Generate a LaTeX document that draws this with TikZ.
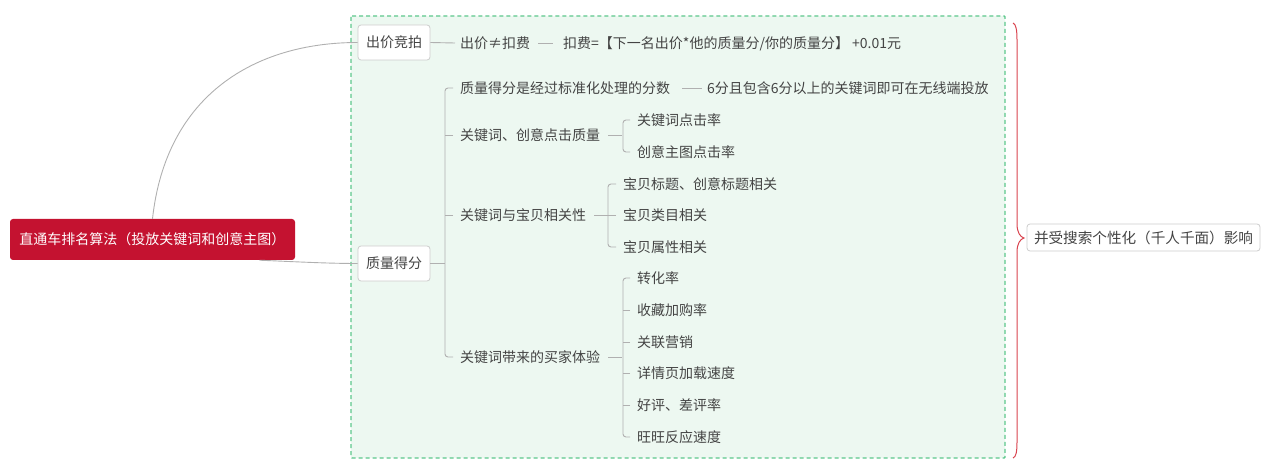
\documentclass[tikz,border=0pt]{standalone}
\usepackage{fontspec}
\setmainfont{Noto Sans CJK SC}
\definecolor{rootred}{HTML}{C41230}
\definecolor{textgray}{HTML}{444444}
\definecolor{linegray}{HTML}{B0B0B0}
\definecolor{boxgray}{HTML}{CDCDCD}
\definecolor{greenfill}{HTML}{EDF8F1}
\definecolor{greenline}{HTML}{5DC88C}
\definecolor{bracered}{HTML}{D9434E}
\begin{document}
\begin{tikzpicture}[x=1pt,y=-1pt,
  txt/.style={anchor=west, inner sep=0pt, text=textgray, font=\fontsize{14}{16}\selectfont, text height=10.9pt, text depth=0pt},
  topicbox/.style={draw=boxgray, fill=white, rounded corners=3pt, line width=0.8pt, text=textgray, font=\fontsize{14}{16}\selectfont, minimum width=72pt, minimum height=35pt, inner sep=0pt, text height=10.9pt, text depth=0pt},
  conn/.style={draw=linegray, line width=0.9pt},
  brk/.style={draw=linegray, line width=0.9pt, rounded corners=3pt}]
\useasboundingbox (0,0) rectangle (1280,473);
% green dashed container
\path[fill=greenfill, draw=greenline, line width=1.4pt, dash pattern=on 4pt off 3pt, rounded corners=1pt] (351,16) rectangle (1005,458);
% root
\node[fill=rootred, rounded corners=3pt, minimum width=285pt, minimum height=41pt, inner sep=0pt, text=white, font=\fontsize{14}{16}\selectfont, text height=10.9pt, text depth=0pt] (root) at (152.5,239.5) {直通车排名算法（投放关键词和创意主图）};
% main topics
\node[topicbox] (bid) at (394,42.5) {出价竞拍};
\node[topicbox] (qs) at (394,263.5) {质量得分};
% bid branch
\node[txt] (b1) at (460,43) {出价≠扣费};
\node[txt] (b2) at (563,43) {扣费=【下一名出价*他的质量分/你的质量分】 +0.01元};
% quality branch
\node[txt] (q1) at (460,88) {质量得分是经过标准化处理的分数};
\node[txt] (q1a) at (707,88) {6分且包含6分以上的关键词即可在无线端投放};
\node[txt] (q2) at (460,135) {关键词、创意点击质量};
\node[txt] (q3) at (460,215) {关键词与宝贝相关性};
\node[txt] (q4) at (460,357) {关键词带来的买家体验};
% click quality children
\node[txt] (c1) at (637,120) {关键词点击率};
\node[txt] (c2) at (637,152) {创意主图点击率};
% relevance children
\node[txt] (r1) at (623,184) {宝贝标题、创意标题相关};
\node[txt] (r2) at (623,215) {宝贝类目相关};
\node[txt] (r3) at (623,247) {宝贝属性相关};
% experience children
\node[txt] (e1) at (637,278) {转化率};
\node[txt] (e2) at (637,310) {收藏加购率};
\node[txt] (e3) at (637,342) {关联营销};
\node[txt] (e4) at (637,373) {详情页加载速度};
\node[txt] (e5) at (637,405) {好评、差评率};
\node[txt] (e6) at (637,437) {旺旺反应速度};
% right summary box
\node[draw=boxgray, fill=white, rounded corners=3pt, line width=0.8pt, text=textgray, font=\fontsize{14.6}{16}\selectfont, minimum width=233pt, minimum height=27pt, inner sep=0pt, text height=11.3pt, text depth=0pt] (infl) at (1143.5,237.5) {并受搜索个性化（千人千面）影响};
\coordinate (tip) at (1024,238);
% root connectors
\draw[conn] (root.north) .. controls (166,95) and (255,42.5) .. (bid.west);
\draw[conn] ([xshift=107pt]root.south) .. controls (300,262) and (330,263.5) .. (qs.west);
% bid connectors
\draw[conn] (bid.east) -- ([xshift=-5pt]b1.west);
\draw[conn] ([xshift=8pt]b1.east) -- ([xshift=-10pt]b2.west);
% quality connectors
\draw[conn] (qs.east) -- (445,263.5);
\draw[brk] ([xshift=-7pt]q1.west) -| ([xshift=-15pt]q4.west) -- ([xshift=-7pt]q4.west);
\draw[conn] ([xshift=-7pt]q2.west) -- ([xshift=-15pt]q2.west);
\draw[conn] ([xshift=-7pt]q3.west) -- ([xshift=-15pt]q3.west);
\draw[conn] ([xshift=12pt]q1.east) -- ([xshift=-5pt]q1a.west);
% click quality bracket
\draw[conn] ([xshift=8pt]q2.east) -- (622,135);
\draw[brk] ([xshift=-7pt]c1.west) -| ([xshift=-14pt]c2.west) -- ([xshift=-7pt]c2.west);
% relevance bracket
\draw[conn] ([xshift=8pt]q3.east) -- (608,215);
\draw[brk] ([xshift=-7pt]r1.west) -| ([xshift=-15pt]r3.west) -- ([xshift=-7pt]r3.west);
\draw[conn] ([xshift=-7pt]r2.west) -- ([xshift=-15pt]r2.west);
% experience bracket
\draw[conn] ([xshift=8pt]q4.east) -- (622,357);
\draw[brk] ([xshift=-7pt]e1.west) -| ([xshift=-14pt]e6.west) -- ([xshift=-7pt]e6.west);
\foreach \n in {e2,e3,e4,e5} \draw[conn] ([xshift=-7pt]\n.west) -- ([xshift=-14pt]\n.west);
% red brace
\draw[bracered, line width=1pt] (1013,23) .. controls (1016,24) and (1017,30) .. (1017,40) -- (1017,224) .. controls (1017,232) and (1020,237) .. (tip) .. controls (1020,239) and (1017,244) .. (1017,252) -- (1017,442) .. controls (1017,452) and (1016,457) .. (1013,458);
\end{tikzpicture}
\end{document}
